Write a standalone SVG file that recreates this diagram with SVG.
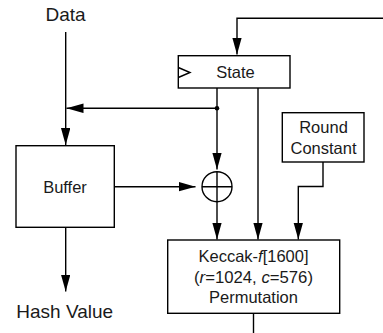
<svg xmlns="http://www.w3.org/2000/svg" width="383" height="333" viewBox="0 0 383 333">
<style>
.box{fill:#fff;stroke:#000;stroke-width:1.4}
.ln{fill:none;stroke:#000;stroke-width:1.4}
.lbl{font-family:"Liberation Sans",Arial,sans-serif;font-size:16.5px;fill:#1a1a1a;text-anchor:middle}
.big{font-family:"Liberation Sans",Arial,sans-serif;font-size:19px;fill:#1a1a1a;text-anchor:middle}
.it{font-style:italic}
</style>
<defs>
<marker id="ah" markerUnits="userSpaceOnUse" markerWidth="18" markerHeight="10" refX="17" refY="4.75" orient="auto">
<path d="M0,0 L17,4.75 L0,9.5 z" fill="#000"/>
</marker>
</defs>
<g id="connectors">
<path class="ln" d="M65.7,32 V145" marker-end="url(#ah)"/>
<path class="ln" d="M383,18.3 H237 V54.5" marker-end="url(#ah)"/>
<path class="ln" d="M217,88 V169.5" marker-end="url(#ah)"/>
<path class="ln" d="M217,108.3 H66.5" marker-end="url(#ah)"/>
<circle cx="217" cy="108.3" r="2.3" fill="#000"/>
<path class="ln" d="M114.3,186.7 H195.5" marker-end="url(#ah)"/>
<path class="ln" d="M217,201.7 V239.5" marker-end="url(#ah)"/>
<path class="ln" d="M258,88 V239.5" marker-end="url(#ah)"/>
<path class="ln" d="M323,162 V186.5 H298.3 V239.5" marker-end="url(#ah)"/>
<path class="ln" d="M65.7,227.3 V291.5" marker-end="url(#ah)"/>
<path class="ln" d="M253.5,313.3 V333"/>
</g>
<g id="data"><text class="big" x="65.5" y="21">Data</text></g>
<g id="state">
<rect class="box" x="178.3" y="55.7" width="111.7" height="32.3"/>
<path class="ln" d="M178.3,67.5 L190,72.5 L178.3,77.5"/>
<text class="lbl" x="235.5" y="77.5">State</text>
</g>
<g id="buffer">
<rect class="box" x="16" y="145.7" width="98.3" height="81.6"/>
<text class="lbl" x="65" y="192.5">Buffer</text>
</g>
<g id="xor">
<circle class="ln" cx="217" cy="186.7" r="15"/>
<path class="ln" d="M202,186.7 H232 M217,171.7 V201.7"/>
</g>
<g id="round-constant">
<rect class="box" x="282.3" y="112.7" width="81.7" height="49.3"/>
<text class="lbl" x="323.5" y="132.7">Round</text>
<text class="lbl" x="323.5" y="154">Constant</text>
</g>
<g id="keccak">
<rect class="box" x="167.7" y="240" width="172" height="73.3"/>
<text class="lbl" x="253.5" y="262.3">Keccak-<tspan class="it">f</tspan>[1600]</text>
<text class="lbl" x="253.5" y="282.5" textLength="119" lengthAdjust="spacingAndGlyphs">(<tspan class="it">r</tspan>=1024, <tspan class="it">c</tspan>=576)</text>
<text class="lbl" x="253.5" y="303.3">Permutation</text>
</g>
<g id="hash"><text class="big" x="64.7" y="318.3">Hash Value</text></g>
</svg>
